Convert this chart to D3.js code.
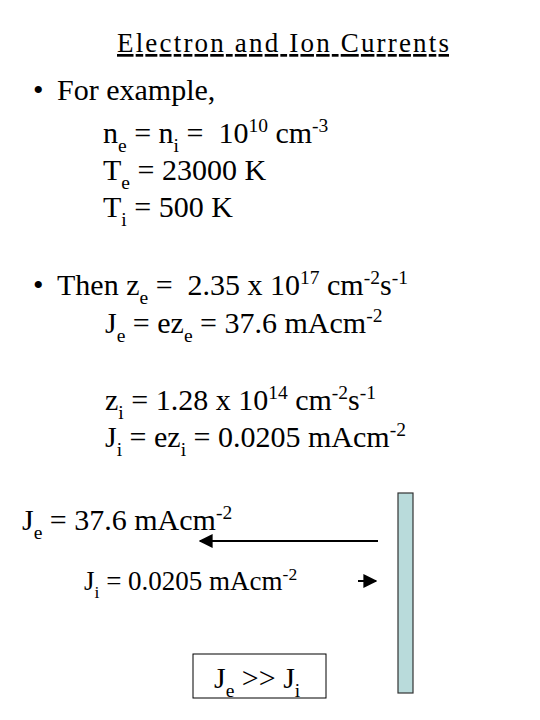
<!DOCTYPE html>
<html><head><meta charset="utf-8">
<script src="https://cdn.jsdelivr.net/npm/d3@7"></script>
<style>body{margin:0;background:#fff} text{white-space:pre}</style>
</head><body>
<script>
// text lines: [x, baseline y, size, segments]; segment = [text, kind] kind: n/sub/sup
var lines = [
  [57, 100, 30, [["For example,", "n"]]],
  [103, 143, 30, [["n", "n"], ["e", "sub"], [" = n", "n"], ["i", "sub"], [" =  10", "n"], ["10", "sup"], [" cm", "n"], ["-3", "sup"]]],
  [103, 180, 30, [["T", "n"], ["e", "sub"], [" = 23000 K", "n"]]],
  [103, 217, 30, [["T", "n"], ["i", "sub"], [" = 500 K", "n"]]],
  [57, 295, 30, [["Then z", "n"], ["e", "sub"], [" =  2.35 x 10", "n"], ["17", "sup"], [" cm", "n"], ["-2", "sup"], ["s", "n"], ["-1", "sup"]]],
  [105, 333, 30, [["J", "n"], ["e", "sub"], [" = ez", "n"], ["e", "sub"], [" = 37.6 m", "n"], ["Acm", "n"], ["-2", "sup"]]],
  [105, 410, 30, [["z", "n"], ["i", "sub"], [" = 1.28 x 10", "n"], ["14", "sup"], [" cm", "n"], ["-2", "sup"], ["s", "n"], ["-1", "sup"]]],
  [105, 447, 30, [["J", "n"], ["i", "sub"], [" = ez", "n"], ["i", "sub"], [" = 0.0205 mAcm", "n"], ["-2", "sup"]]],
  [22, 530, 30, [["J", "n"], ["e", "sub"], [" = 37.6 mAcm", "n"], ["-2", "sup"]]],
  [84, 590, 27, [["J", "n"], ["i", "sub"], [" = 0.0205 mAcm", "n"], ["-2", "sup"]]],
  [214, 688, 30, [["J", "n"], ["e", "sub"], [" >> J", "n"], ["i", "sub"]]]
];
var bullets = [[33, 100], [33, 295]];
var arrows = [[378, 541, 200, 541], [358, 581, 376, 581]];

var svg = d3.select("body").append("svg").attr("width", 540).attr("height", 720)
  .style("font-family", "'Liberation Serif', 'Times New Roman', serif");

svg.append("defs").append("marker")
  .attr("id", "ah").attr("viewBox", "0 0 10 10").attr("refX", 9).attr("refY", 5)
  .attr("markerWidth", 7).attr("markerHeight", 7).attr("orient", "auto-start-reverse")
  .append("path").attr("d", "M0,0L10,5L0,10z").attr("fill", "#000");

svg.append("text").attr("x", 283).attr("y", 52).attr("text-anchor", "middle")
  .attr("font-size", 27).attr("textLength", 332).attr("text-decoration", "underline").text("Electron and Ion Currents");

svg.selectAll(".bul").data(bullets).join("text")
  .attr("x", d => d[0]).attr("y", d => d[1]).attr("font-size", 30).text("•");

lines.forEach(function(l) {
  var t = svg.append("text").attr("x", l[0]).attr("y", l[1]).attr("font-size", l[2]);
  var shift = 0;
  l[3].forEach(function(s) {
    var target = 0;
    if (s[1] === "sub") target = l[2] * 0.3;
    if (s[1] === "sup") target = -l[2] * 0.38;
    var dy = target - shift; shift = target;
    t.append("tspan").attr("dy", dy).attr("font-size", s[1] === "n" ? l[2] : l[2] * 0.65).text(s[0]);
  });
});

svg.selectAll(".arr").data(arrows).join("line")
  .attr("x1", d => d[0]).attr("y1", d => d[1]).attr("x2", d => d[2]).attr("y2", d => d[3])
  .attr("stroke", "#000").attr("stroke-width", 2).attr("marker-end", "url(#ah)");

svg.append("rect").attr("x", 398).attr("y", 493).attr("width", 15).attr("height", 200)
  .attr("fill", "#b9dbdb").attr("stroke", "#333").attr("stroke-width", 1.2);
svg.append("rect").attr("x", 193).attr("y", 654).attr("width", 133).attr("height", 44)
  .attr("fill", "none").attr("stroke", "#000").attr("stroke-width", 1);
</script>
</body></html>
